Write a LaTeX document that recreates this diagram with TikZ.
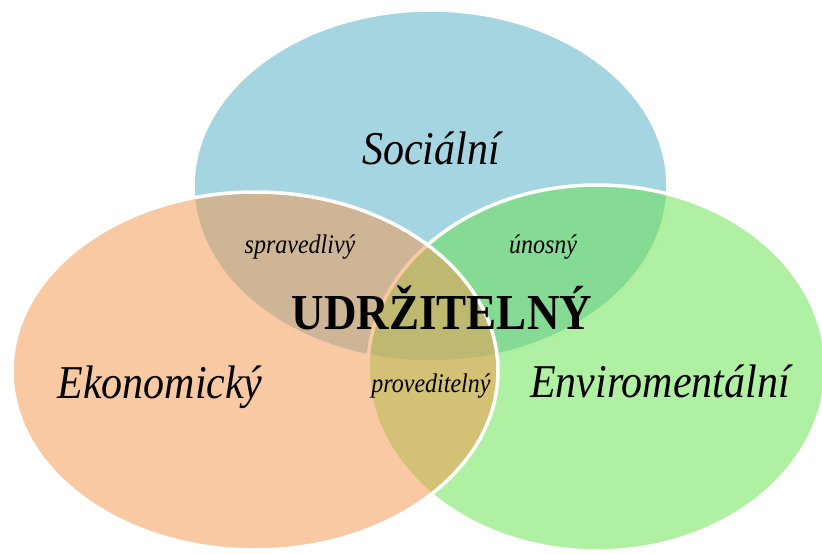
\documentclass[tikz,border=0pt]{standalone}
\usepackage{fontspec}
\setmainfont{Liberation Serif}
\usetikzlibrary{shapes.geometric}
\definecolor{socblue}{RGB}{166,213,226}
\definecolor{ekoorange}{RGB}{243,153,81}
\definecolor{envgreen}{RGB}{106,226,79}
\tikzset{
  vennset/.style={ellipse, inner sep=0pt, draw=white, line width=3.5pt},
  bigitalic/.style={anchor=base, inner sep=0pt, font=\fontsize{42}{50}\selectfont\itshape},
  smallitalic/.style={anchor=base, inner sep=0pt, font=\fontsize{24}{28}\selectfont\itshape},
  centerlabel/.style={anchor=base, inner sep=0pt, font=\fontsize{45}{52}\selectfont\bfseries}
}
\newcommand{\stretchtext}[1]{\scalebox{1}[1.12]{#1}}
\begin{document}
\begin{tikzpicture}[x=1pt,y=-1pt]
\useasboundingbox (0,0) rectangle (822,554);
\clip (0,0) rectangle (822,554);
% sets: blue first, then green, then orange
\node[vennset, fill=socblue, minimum width=475pt, minimum height=352pt] (soc) at (430.5,186) {};
\node[vennset, fill=envgreen, fill opacity=0.53, minimum width=458pt, minimum height=366pt] (env) at (597,368) {};
\node[vennset, fill=ekoorange, fill opacity=0.53, minimum width=486pt, minimum height=358pt] (eko) at (255,371) {};
% labels
\node[bigitalic] (tsoc) at (431,164) {\stretchtext{Sociální}};
\node[bigitalic] (teko) at (160,398) {\stretchtext{Ekonomický}};
\node[bigitalic] (tenv) at (660,397) {\stretchtext{Enviromentální}};
\node[smallitalic] (tspr) at (300,253) {\stretchtext{spravedlivý}};
\node[smallitalic] (tuno) at (543,253) {\stretchtext{únosný}};
\node[smallitalic] (tpro) at (431,392) {\stretchtext{proveditelný}};
\node[centerlabel] (tudr) at (442,329) {\stretchtext{UDRŽITELNÝ}};
\end{tikzpicture}
\end{document}
